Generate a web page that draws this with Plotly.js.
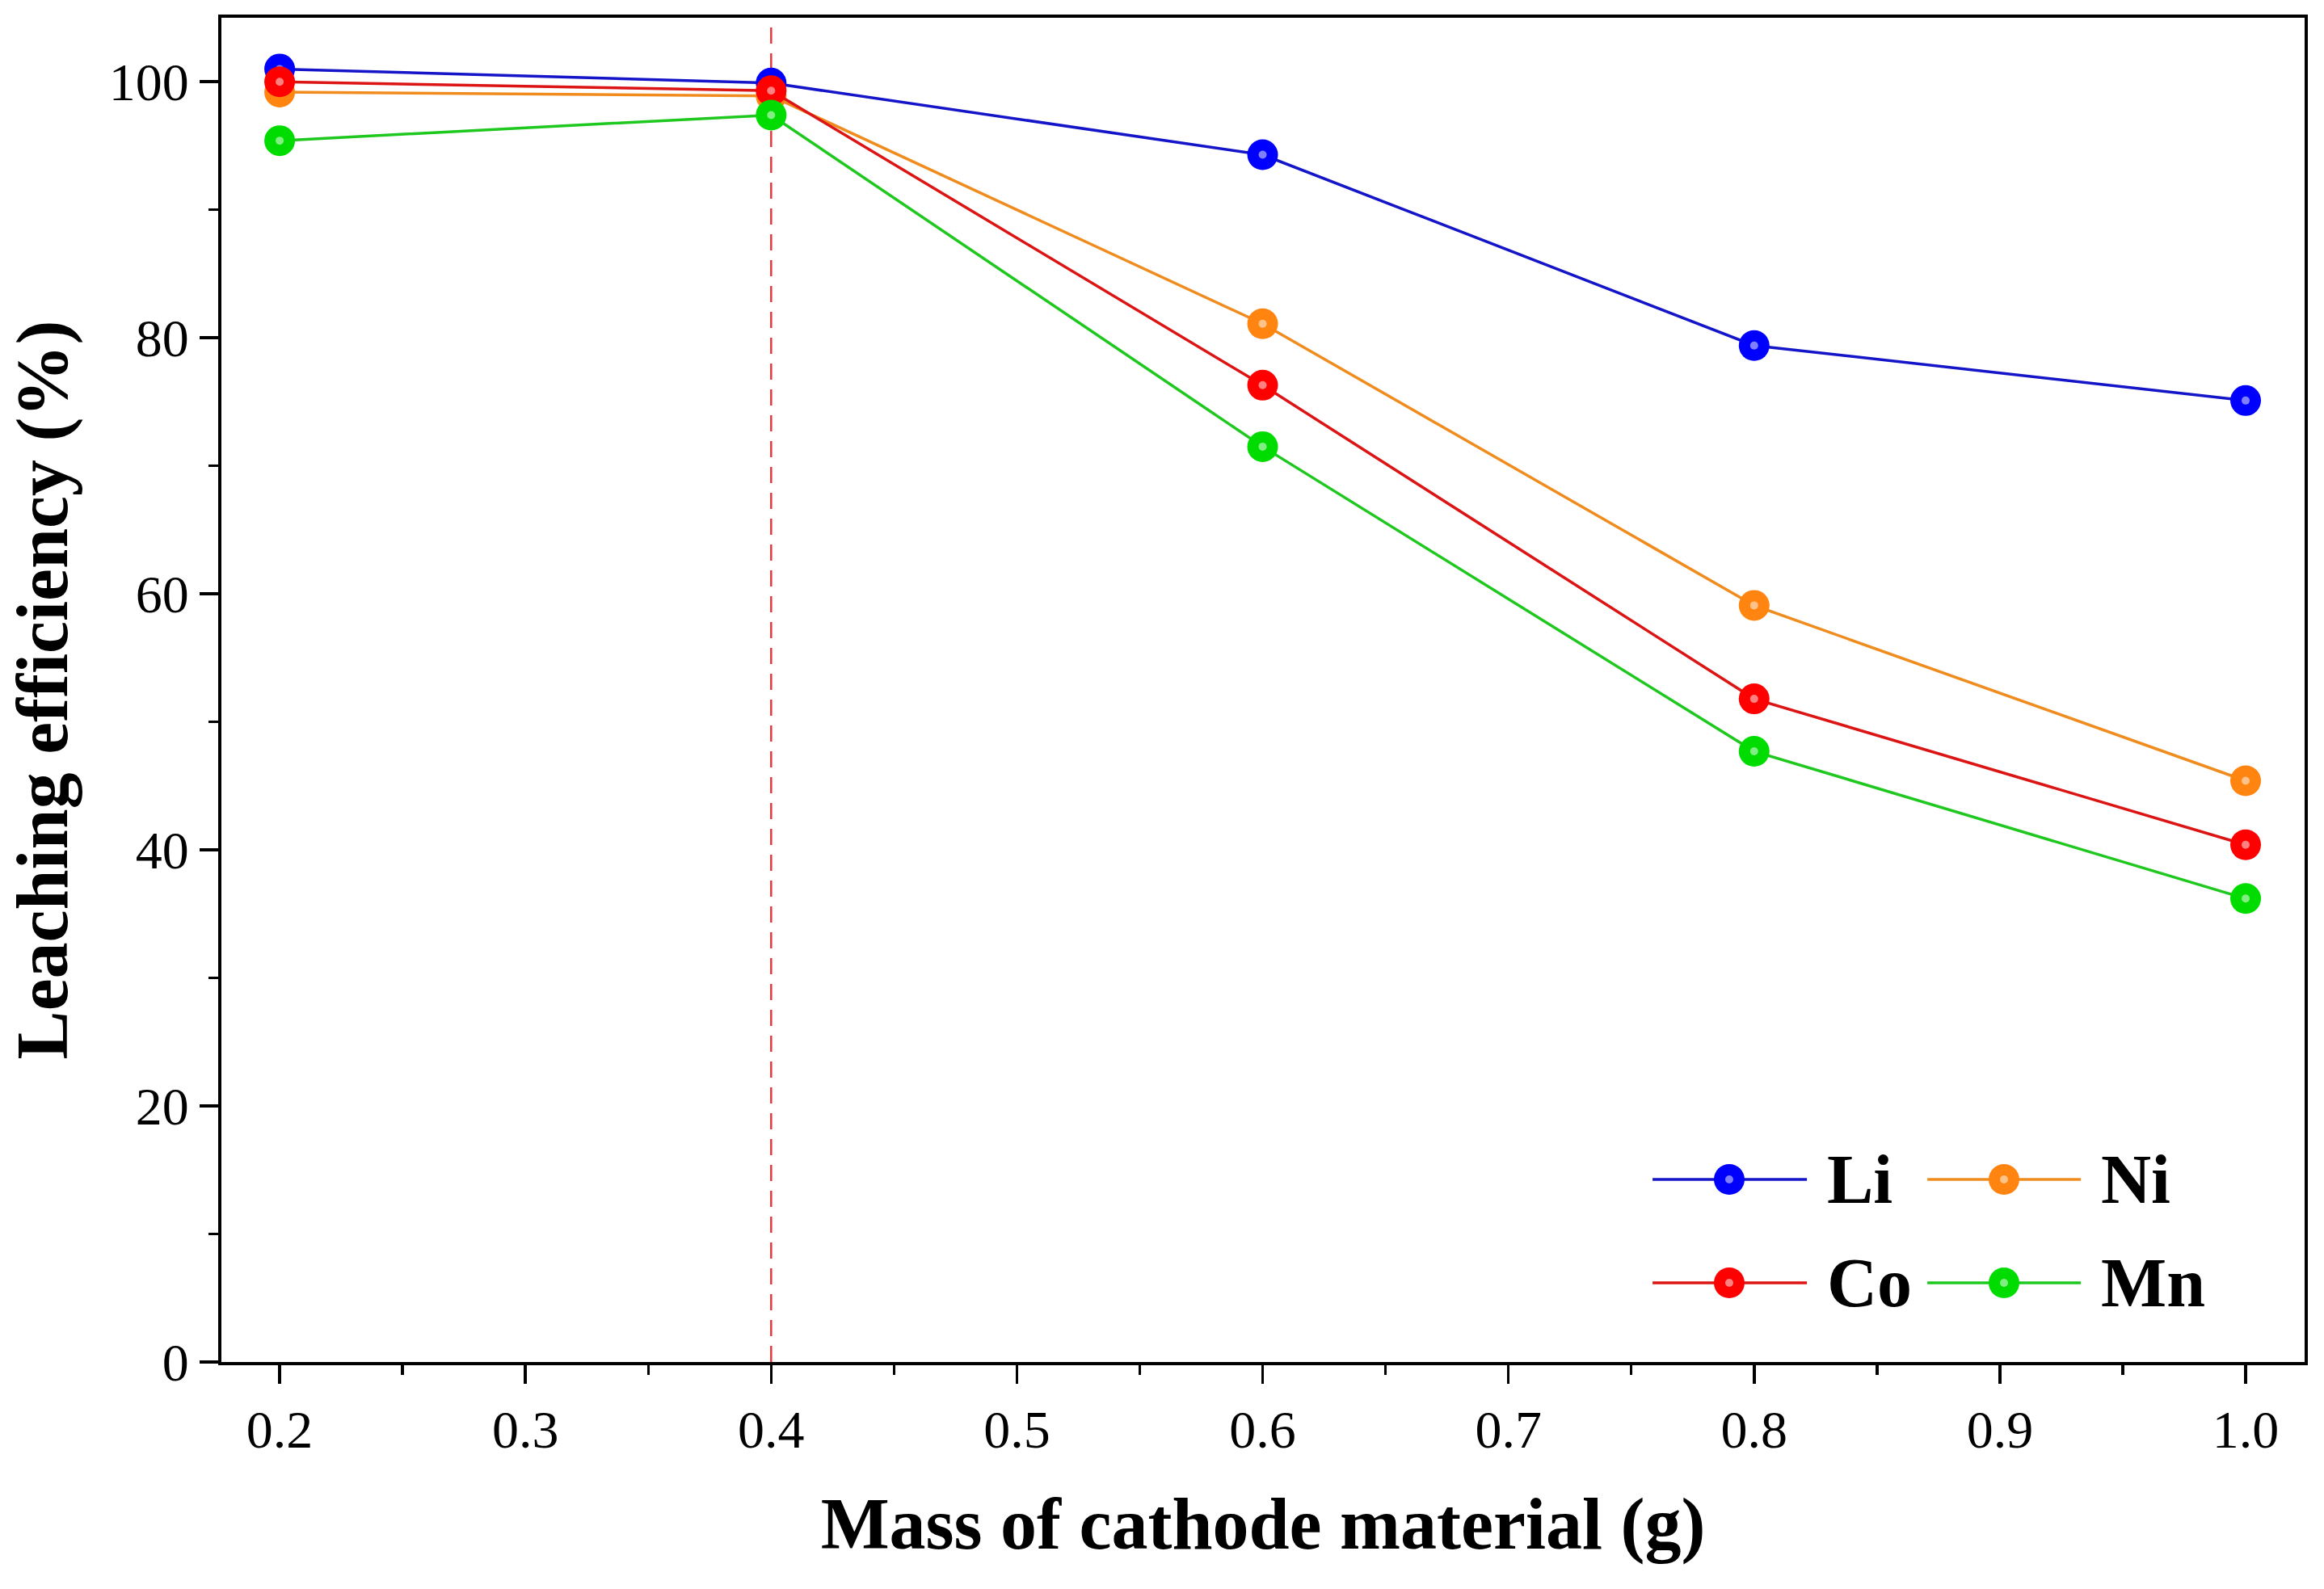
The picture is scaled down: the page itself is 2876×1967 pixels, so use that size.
<!DOCTYPE html>
<html>
<head>
<meta charset="utf-8">
<script src="https://cdn.plot.ly/plotly-3.0.1.min.js"></script>
<style>
body { margin: 0; background: #fff; }
#plot { width: 2876px; height: 1967px; }
</style>
</head>
<body>
<div id="plot"></div>
<script>
// values
var mass = [0.2, 0.4, 0.6, 0.8, 1.0];
var li = [101.0, 99.9, 94.3, 79.4, 75.1];
var ni = [99.2, 98.9, 81.1, 59.1, 45.4];
var co = [100.0, 99.3, 76.3, 51.8, 40.4];
var mn = [95.4, 97.4, 71.5, 47.7, 36.2];

var names = ['Li', 'Ni', 'Co', 'Mn'];
var series = [li, ni, co, mn];
var lineColors = ['#1414c8', '#f08c1e', '#dc1414', '#1ec81e'];
var ballColors = ['#0000ff', '#ff8410', '#ff0000', '#00dc00'];
var optimum = 0.4;

// legend slots (paper fractions of the plot area), two columns x two rows
var legCols = [[0.687, 0.7238, 0.7611], [0.8189, 0.8557, 0.8926]];
var legRows = [0.1358, 0.0589];

var FONT = '"Liberation Serif", "Times New Roman", serif';

function shine(extra) {
	// small pale spot drawn over every ball
	var t = {type: 'scatter', mode: 'markers', showlegend: false, hoverinfo: 'skip',
		marker: {size: 10, color: '#ffffff', opacity: 0.5, line: {width: 0}}};
	for (var key in extra) t[key] = extra[key];
	return t;
}

var traces = [];
for (var i = 0; i < series.length; i++) {
	traces.push({
		x: mass, y: series[i], type: 'scatter', mode: 'lines+markers',
		name: names[i], showlegend: false, hoverinfo: 'skip',
		line: {color: lineColors[i], width: 3.5},
		marker: {size: 38, color: ballColors[i], line: {width: 0}}
	});
	traces.push(shine({x: mass, y: series[i]}));
}

// hand-built legend on a hidden overlay axis so the line stubs can be long
var annotations = [];
for (var k = 0; k < names.length; k++) {
	var col = legCols[k % 2];
	var row = legRows[Math.floor(k / 2)];
	traces.push({
		x: [col[0], col[2]], y: [row, row],
		xaxis: 'x2', yaxis: 'y2', type: 'scatter', mode: 'lines',
		showlegend: false, hoverinfo: 'skip',
		line: {color: lineColors[k], width: 3.5}
	});
	traces.push({
		x: [col[1]], y: [row], xaxis: 'x2', yaxis: 'y2', type: 'scatter', mode: 'markers',
		showlegend: false, hoverinfo: 'skip',
		marker: {size: 38, color: ballColors[k], line: {width: 0}}
	});
	traces.push(shine({x: [col[1]], y: [row], xaxis: 'x2', yaxis: 'y2'}));
	annotations.push({
		xref: 'x2', yref: 'y2', x: col[2] + 0.009, y: row,
		xanchor: 'left', yanchor: 'middle', showarrow: false,
		text: '<b>' + names[k] + '</b>',
		font: {family: FONT, size: 86, color: '#000'}
	});
}

var layout = {
	width: 2876, height: 1967,
	margin: {l: 274, r: 24, t: 22, b: 281},
	paper_bgcolor: '#fff', plot_bgcolor: '#fff',
	font: {family: FONT, color: '#000', size: 66},
	xaxis: {
		range: [0.1763, 1.024], tick0: 0.2, dtick: 0.1, tickformat: '.1f',
		showline: true, mirror: true, linecolor: '#000', linewidth: 4,
		ticks: 'outside', ticklen: 23, tickwidth: 3.5, tickcolor: '#000',
		minor: {dtick: 0.05, ticks: 'outside', ticklen: 12, tickwidth: 3.5, tickcolor: '#000'},
		showgrid: false, zeroline: false,
		tickfont: {family: FONT, size: 66},
		title: {text: '<b>Mass of cathode material (g)</b>', font: {family: FONT, size: 90}, standoff: 50}
	},
	yaxis: {
		range: [0, 105], tick0: 0, dtick: 20,
		showline: true, mirror: true, linecolor: '#000', linewidth: 4,
		ticks: 'outside', ticklen: 23, tickwidth: 3.5, tickcolor: '#000',
		minor: {dtick: 10, ticks: 'outside', ticklen: 12, tickwidth: 3.5, tickcolor: '#000'},
		showgrid: false, zeroline: false,
		tickfont: {family: FONT, size: 66},
		title: {text: '<b>Leaching efficiency (%)</b>', font: {family: FONT, size: 90}, standoff: 22}
	},
	xaxis2: {overlaying: 'x', anchor: 'y2', range: [0, 1], visible: false, fixedrange: true},
	yaxis2: {overlaying: 'y', anchor: 'x2', range: [0, 1], visible: false, fixedrange: true},
	shapes: [{
		type: 'line', xref: 'x', yref: 'paper', x0: optimum, x1: optimum, y0: 0, y1: 1,
		line: {color: '#e8383a', width: 2.5, dash: '20px,12px'}, layer: 'below'
	}],
	annotations: annotations,
	showlegend: false
};

Plotly.newPlot('plot', traces, layout, {staticPlot: true});
</script>
</body>
</html>
